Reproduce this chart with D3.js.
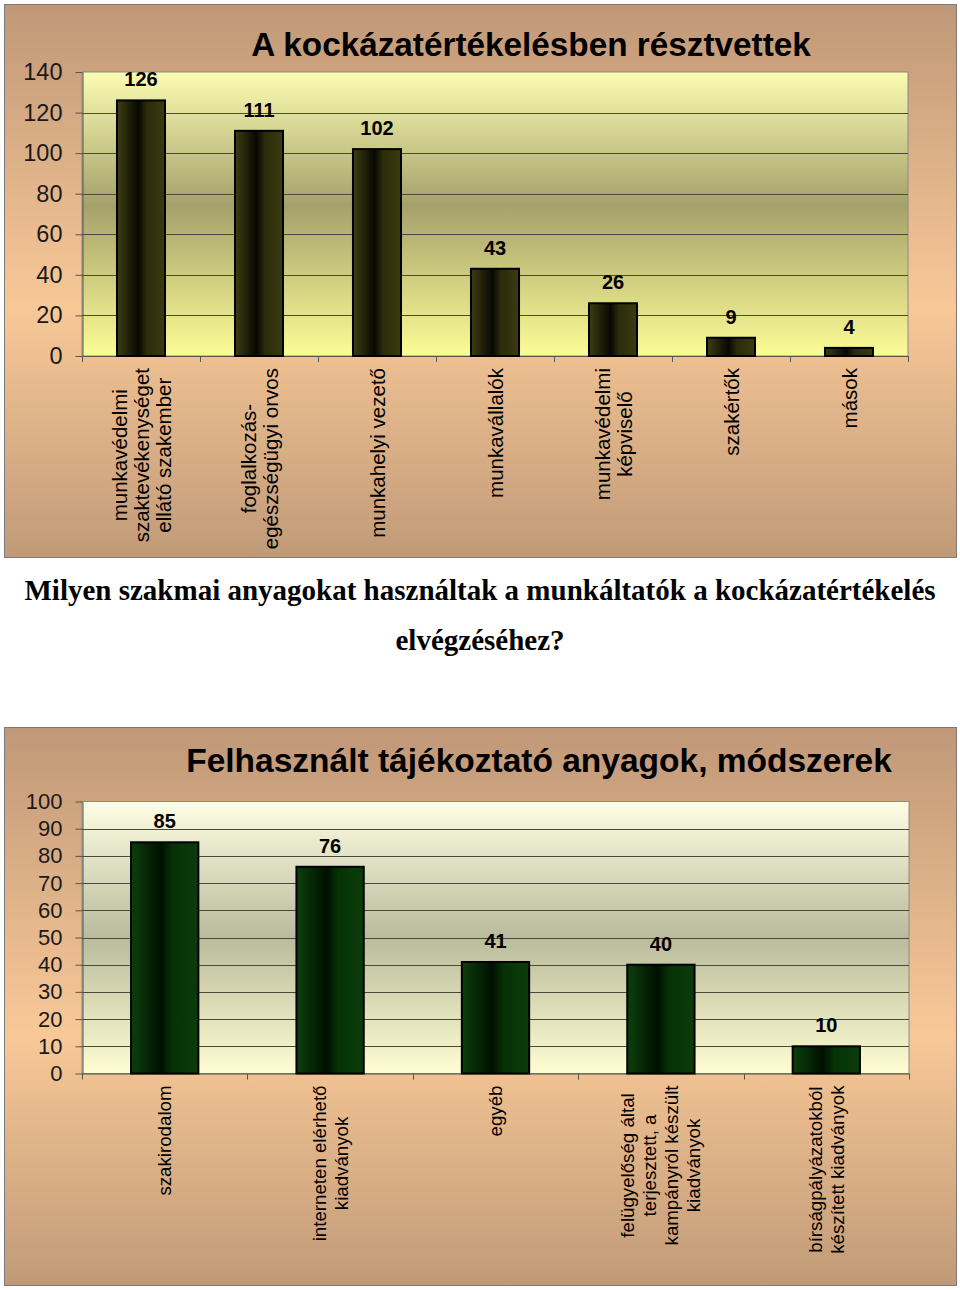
<!DOCTYPE html>
<html>
<head>
<meta charset="utf-8">
<script src="https://cdn.jsdelivr.net/npm/d3@7"></script>
<style>
  body { margin: 0; background: #ffffff; }
  svg { display: block; }
</style>
</head>
<body>
<script>
// ---------- DATA ----------
const title1 = "A kockázatértékelésben résztvettek";
const categories1 = [
  "munkavédelmi\nszaktevékenységet\nellátó szakember",
  "foglalkozás-\negészségügyi orvos",
  "munkahelyi vezető",
  "munkavállalók",
  "munkavédelmi\nképviselő",
  "szakértők",
  "mások"
];
const values1 = [126, 111, 102, 43, 26, 9, 4];
const yTicks1 = [0, 20, 40, 60, 80, 100, 120, 140];

const subtitleLines = [
  "Milyen szakmai anyagokat használtak a munkáltatók a kockázatértékelés",
  "elvégzéséhez?"
];

const title2 = "Felhasznált tájékoztató anyagok, módszerek";
const categories2 = [
  "szakirodalom",
  "interneten elérhető\nkiadványok",
  "egyéb",
  "felügyelőség által\nterjesztett, a\nkampányról készült\nkiadványok",
  "bírságpályázatokból\nkészített kiadványok"
];
const values2 = [85, 76, 41, 40, 10];
const yTicks2 = [0, 10, 20, 30, 40, 50, 60, 70, 80, 90, 100];

// ---------- DRAW ----------
const svg = d3.select("body").append("svg").attr("width", 960).attr("height", 1290);
const defs = svg.append("defs");

function linGrad(id, stops, horizontal) {
  const g = defs.append("linearGradient").attr("id", id)
    .attr("x1", 0).attr("y1", 0)
    .attr("x2", horizontal ? 1 : 0).attr("y2", horizontal ? 0 : 1);
  stops.forEach(s => g.append("stop").attr("offset", s[0]).attr("stop-color", s[1]));
}
linGrad("bg", [[0, "#c09878"], [0.55, "#f8c897"], [1, "#c09a78"]], false);
linGrad("plot1", [[0, "#fcfcb2"], [0.47, "#a5a16b"], [1, "#fcfc96"]], false);
linGrad("plot2", [[0, "#fefee4"], [0.5, "#babb9c"], [1, "#fefdd2"]], false);
linGrad("bar1", [[0, "#3e3d12"], [0.45, "#080802"], [0.62, "#2c2b0b"], [1, "#3b3a10"]], true);
linGrad("bar2", [[0, "#0c3f0c"], [0.45, "#001000"], [0.62, "#063206"], [1, "#0b3c0b"]], true);

function drawChart(cfg) {
  const g = svg.append("g");
  // frame
  g.append("rect")
    .attr("x", cfg.frame[0] + 0.5).attr("y", cfg.frame[1] + 0.5)
    .attr("width", cfg.frame[2]).attr("height", cfg.frame[3])
    .attr("fill", "url(#bg)").attr("stroke", "#7a7a7a").attr("stroke-width", 1);

  const y = d3.scaleLinear().domain(cfg.domain).range([cfg.plot.bottom, cfg.plot.top]);
  const pi = 0.593;
  const x = d3.scaleBand().domain(cfg.categories)
    .range([cfg.plot.left, cfg.plot.right]).paddingInner(pi).paddingOuter(pi / 2);

  // plot area
  g.append("rect")
    .attr("x", cfg.plot.left).attr("y", cfg.plot.top)
    .attr("width", cfg.plot.right - cfg.plot.left)
    .attr("height", cfg.plot.bottom - cfg.plot.top)
    .attr("fill", cfg.plotFill).attr("stroke", "#8a8a8a").attr("stroke-width", 1);

  // gridlines
  g.append("g").selectAll("line").data(cfg.ticks.filter(t => t !== cfg.domain[0] && t !== cfg.domain[1]))
    .join("line")
    .attr("x1", cfg.plot.left).attr("x2", cfg.plot.right)
    .attr("y1", d => Math.round(y(d)) + 0.5).attr("y2", d => Math.round(y(d)) + 0.5)
    .attr("stroke", "#4a4a3a").attr("stroke-width", 1);

  // y axis
  const ya = g.append("g").attr("transform", `translate(${cfg.plot.left + 0.5},0)`)
    .call(d3.axisLeft(y).tickValues(cfg.ticks).tickSize(7).tickPadding(13).tickSizeOuter(0));
  ya.select(".domain").attr("stroke", "#555");
  ya.selectAll(".tick line").attr("stroke", "#555");
  ya.selectAll(".tick text")
    .attr("font-family", "Liberation Sans, Arial, sans-serif")
    .attr("font-size", cfg.yFont).attr("fill", "#1a1a1a");

  // x axis line and ticks at band boundaries
  g.append("line")
    .attr("x1", cfg.plot.left).attr("x2", cfg.plot.right)
    .attr("y1", cfg.plot.bottom + 0.5).attr("y2", cfg.plot.bottom + 0.5)
    .attr("stroke", "#555");
  const bounds = d3.range(cfg.categories.length + 1).map(i => cfg.plot.left + i * x.step());
  g.append("g").selectAll("line").data(bounds).join("line")
    .attr("x1", d => Math.round(d) + 0.5).attr("x2", d => Math.round(d) + 0.5)
    .attr("y1", cfg.plot.bottom).attr("y2", cfg.plot.bottom + 6)
    .attr("stroke", "#555");

  // bars
  g.append("g").selectAll("rect").data(cfg.values).join("rect")
    .attr("x", (d, i) => x(cfg.categories[i]))
    .attr("y", d => y(d))
    .attr("width", x.bandwidth())
    .attr("height", d => y(0) - y(d))
    .attr("fill", cfg.barFill).attr("stroke", "#000").attr("stroke-width", 2);

  // value labels
  g.append("g").selectAll("text").data(cfg.values).join("text")
    .attr("x", (d, i) => x(cfg.categories[i]) + x.bandwidth() / 2)
    .attr("y", d => y(d) - 14)
    .attr("text-anchor", "middle")
    .attr("font-family", "Liberation Sans, Arial, sans-serif")
    .attr("font-weight", "bold").attr("font-size", 20).attr("fill", "#000")
    .text(d => d);

  // category labels (rotated)
  cfg.categories.forEach((c, i) => {
    const lines = c.split("\n");
    const cx = x(c) + x.bandwidth() / 2;
    const lg = g.append("g").attr("transform", `translate(${cx},${cfg.plot.bottom + 12}) rotate(-90)`);
    const texts = lines.map((ln, j) => lg.append("text")
      .attr("font-family", "Liberation Sans, Arial, sans-serif")
      .attr("font-size", cfg.catFont).attr("fill", "#000")
      .attr("text-anchor", "middle")
      .attr("dominant-baseline", "central")
      .attr("y", (j - (lines.length - 1) / 2) * cfg.lineStep)
      .text(ln));
    const maxLen = d3.max(texts, t => t.node().getComputedTextLength());
    texts.forEach(t => t.attr("x", -maxLen / 2));
  });

  // title
  g.append("text")
    .attr("x", cfg.titlePos[0]).attr("y", cfg.titlePos[1])
    .attr("text-anchor", "middle")
    .attr("font-family", "Liberation Sans, Arial, sans-serif")
    .attr("font-weight", "bold").attr("font-size", cfg.titleFont).attr("fill", "#000")
    .text(cfg.title);
}

drawChart({
  frame: [4, 4, 952, 553],
  plot: { left: 82, right: 908, top: 72, bottom: 356 },
  domain: [0, 140], ticks: yTicks1,
  categories: categories1, values: values1,
  plotFill: "url(#plot1)", barFill: "url(#bar1)",
  yFont: 23.5, catFont: 20.5, lineStep: 22,
  title: title1, titlePos: [531, 56], titleFont: 33.3
});

drawChart({
  frame: [4, 727, 952, 558],
  plot: { left: 82, right: 909, top: 801.5, bottom: 1073.5 },
  domain: [0, 100], ticks: yTicks2,
  categories: categories2, values: values2,
  plotFill: "url(#plot2)", barFill: "url(#bar2)",
  yFont: 22, catFont: 18.7, lineStep: 22,
  title: title2, titlePos: [539, 772], titleFont: 33.5
});

// subtitle between charts
svg.append("g").selectAll("text").data(subtitleLines).join("text")
  .attr("x", 480).attr("y", (d, i) => 600 + i * 50)
  .attr("text-anchor", "middle")
  .attr("font-family", "Liberation Serif, Times New Roman, serif")
  .attr("font-weight", "bold").attr("font-size", 29).attr("fill", "#000")
  .text(d => d);
</script>
</body>
</html>
